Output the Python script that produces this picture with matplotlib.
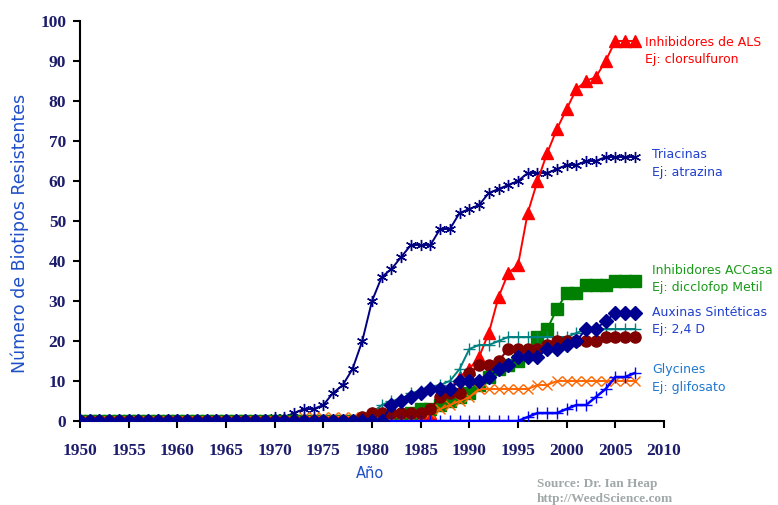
import matplotlib
matplotlib.use('Agg')
import matplotlib.pyplot as plt

years = list(range(1950, 2008))

# número de biotipos resistentes por año (1950-2007)
triacinas = [0] * 20 + [1, 1, 2, 3, 3, 4, 7, 9, 13, 20, 30, 36, 38, 41, 44, 44, 44, 48, 48, 52,
                        53, 54, 57, 58, 59, 60, 62, 62, 62, 63, 64, 64, 65, 65, 66, 66, 66, 66]
als = [0] * 32 + [1, 1, 1, 1, 2, 5, 8, 11, 13, 16, 22, 31, 37, 39, 52, 60, 67, 73, 78, 83,
                  85, 86, 90, 95, 95, 95]
accasa = [0] * 33 + [1, 2, 3, 3, 4, 5, 6, 7, 9, 11, 13, 14, 15, 17, 21, 23, 28, 32, 32, 34,
                     34, 34, 35, 35, 35]
auxinas = [0] * 32 + [4, 5, 6, 7, 8, 8, 8, 10, 10, 10, 11, 13, 14, 16, 16, 16, 18, 18, 19, 20,
                      23, 23, 25, 27, 27, 27]
glycines = [0] * 46 + [1, 2, 2, 2, 3, 4, 4, 6, 8, 11, 11, 12]
teal_serie = [0] * 29 + [1, 2, 4, 5, 5.5, 7, 7.5, 8.5, 9, 10, 13, 18, 19, 19, 20, 21, 21, 21, 21, 21,
                         21, 21, 22, 23, 23, 23, 23, 23, 23]
rojo_osc = [0] * 29 + [1, 2, 2, 2, 2, 2, 2, 3, 6, 7, 7, 12, 14, 14, 15, 18, 18, 18, 18, 19,
                       20, 20, 20, 20, 20, 21, 21, 21, 21]
naranja = [0] * 23 + [1] * 13 + [2, 3, 4, 5, 6, 8, 8, 8, 8, 8, 8, 9, 9] + [10] * 9

fig = plt.figure(figsize=(7.78, 5.05), dpi=100)
ax = fig.add_axes([80 / 778, 1 - 421 / 505, 584 / 778, 400 / 505])

ax.plot(years, triacinas, color='#000080', marker=(6, 2, 0), ms=8, mew=1, lw=1.4, zorder=1)
ax.plot(years, als, color='#ff0000', marker='^', ms=8, lw=1.4, zorder=2)
ax.plot(years, accasa, color='#008000', marker='s', ms=9, lw=1.4, zorder=3)
ax.plot(years, naranja, color='#ff6600', marker='x', ms=7, mew=1, lw=1.4, zorder=4)
ax.plot(years, teal_serie, color='#008080', marker='+', ms=8, mew=1, lw=1.4, zorder=5)
ax.plot(years, rojo_osc, color='#800000', marker='o', ms=8, lw=1.4, zorder=6)
ax.plot(years, glycines, color='#0000ff', marker='+', ms=9, mew=1, lw=1.8, zorder=7)
ax.plot(years, auxinas, color='#000090', marker='D', ms=7, lw=1.4, zorder=8)

ax.set_xlim(1950, 2010)
ax.set_ylim(0, 100)
ax.set_xticks(range(1950, 2011, 5))
ax.set_yticks(range(0, 101, 10))
for s in ['top', 'right']:
    ax.spines[s].set_visible(False)
for s in ['left', 'bottom']:
    ax.spines[s].set_linewidth(1.5)
    ax.spines[s].set_color('black')
ax.tick_params(direction='out', length=5, width=1.5, colors='black')
for lab in ax.get_xticklabels() + ax.get_yticklabels():
    lab.set_fontfamily('Liberation Serif')
    lab.set_fontweight('bold')
    lab.set_fontsize(12.5)
    lab.set_color('#1c1c6b')
ax.tick_params(axis='x', pad=11)
ax.tick_params(axis='y', pad=5)
for sp in ax.spines.values():
    sp.set_clip_on(False)

fig.text(20 / 778, 1 - 233 / 505, 'Número de Biotipos Resistentes', rotation=90,
         ha='center', va='center', fontsize=12.5, color='#1f4fc8')
fig.text(370 / 778, 1 - 473 / 505, 'Año', ha='center', va='center', fontsize=10.5, color='#1f4fc8')

etiquetas = [
    (645, 42, 'Inhibidores de ALS\nEj: clorsulfuron', '#ff0000'),
    (652, 155, 'Triacinas\nEj: atrazina', '#2040d0'),
    (652, 271, 'Inhibidores ACCasa\nEj: dicclofop Metil', '#1a9a1a'),
    (652, 312, 'Auxinas Sintéticas\nEj: 2,4 D', '#2040d0'),
    (652, 370, 'Glycines\nEj: glifosato', '#1e78d0'),
]
for px, py, txt, col in etiquetas:
    l1, l2 = txt.split('\n')
    fig.text(px / 778, 1 - py / 505, l1, ha='left', va='center', fontsize=9, color=col)
    fig.text(px / 778, 1 - (py + 17) / 505, l2, ha='left', va='center', fontsize=9, color=col)

fig.text(537 / 778, 1 - 484 / 505, 'Source: Dr. Ian Heap', ha='left', va='center',
         fontsize=9.5, fontfamily='Liberation Serif', fontweight='bold', color='#a0a8a8')
fig.text(537 / 778, 1 - 499 / 505, 'http://WeedScience.com', ha='left', va='center',
         fontsize=9.5, fontfamily='Liberation Serif', fontweight='bold', color='#a0a8a8')

fig.savefig('out.png', dpi=100)
